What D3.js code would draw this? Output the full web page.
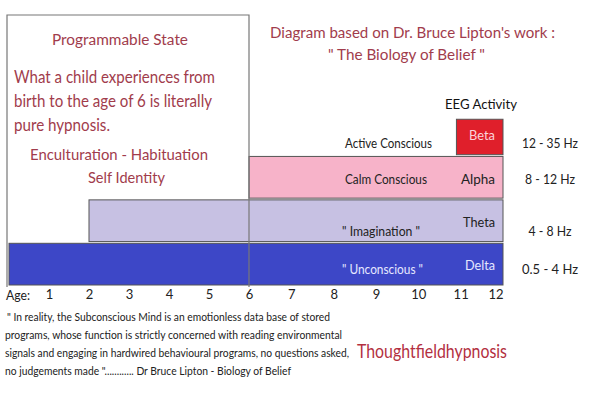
<!DOCTYPE html>
<html><head><meta charset="utf-8">
<script src="https://cdn.jsdelivr.net/npm/d3@7"></script>
<style>
html,body{margin:0;padding:0;background:#fff;}
svg{display:block;font-family:Lato,"Noto Sans",sans-serif;}
</style></head>
<body>
<script>
// ---- data ----
const series = ["Delta", "Theta", "Alpha", "Beta"];
const startAge = [0, 2, 6, 10.9];
const endAge = [12, 12, 12, 12];
const stateLabels = ['" Unconscious "', '" Imagination "', "Calm Conscious", "Active Conscious"];
const freqLabels = ["0.5 -  4 Hz", "4 -  8 Hz", "8 - 12 Hz", "12 - 35 Hz"];
const ageTicks = [1, 2, 3, 4, 5, 6, 7, 8, 9, 10, 11, 12];
const programmableEnd = 6;
const leftTexts = ["What a child experiences from", "birth to the age of 6 is literally", "pure hypnosis."];
const quoteLines = [
  '" In reality, the Subconscious Mind is an emotionless data base of stored',
  "programs, whose function is strictly concerned with reading environmental",
  "signals and engaging in hardwired behavioural programs, no questions asked,",
  'no judgements made "............ Dr Bruce Lipton - Biology of Belief'
];

const W = 600, H = 400;
const fill = {Delta: "#3d47c7", Theta: "#c7c1e3", Alpha: "#f7b3c9", Beta: "#e01f2b"};
const nameColor = {Delta: "#e6e8ff", Theta: "#222", Alpha: "#222", Beta: "#fbd3da"};
const stateColor = {Delta: "#e6e8ff", Theta: "#222", Alpha: "#222", Beta: "#222"};
const red = "#a13c4c";

// layout-only tweaks (text widths / baseline offsets)
const nameOff = {Delta: 6, Theta: 6, Alpha: 7, Beta: 6};
const stateOff = {Delta: 10, Theta: 15, Alpha: 7, Beta: 14};
const nameW = {Delta: 30, Theta: 32, Alpha: 34, Beta: 26};
const stateW = {Delta: 81, Theta: 78, Alpha: 82, Beta: 87};
const freqW = {Delta: 56, Theta: 43, Alpha: 50, Beta: 56};

const svg = d3.select("body").append("svg").attr("width", W).attr("height", H);

function fit(sel, w) {
  sel.attr("textLength", w).attr("lengthAdjust", "spacingAndGlyphs");
  return sel;
}

const x = d3.scaleLinear().domain([0, 6, 12]).range([9, 249, 503]);
const y = d3.scaleBand().domain(series).range([285, 113]).paddingInner(0.04);

const data = series.map((s, i) => ({name: s, start: startAge[i], end: endAge[i], state: stateLabels[i], freq: freqLabels[i]}));

// bars
svg.append("g").selectAll("rect").data(data).join("rect")
  .attr("x", d => x(d.start))
  .attr("y", d => d.name === "Beta" ? y(d.name) + y.bandwidth() * 0.15 : y(d.name))
  .attr("width", d => x(d.end) - x(d.start))
  .attr("height", d => d.name === "Beta" ? y.bandwidth() * 0.85 : y.bandwidth())
  .attr("fill", d => fill[d.name])
  .attr("stroke", "#555").attr("stroke-width", 1);

// programmable-state box (left, top, right lines)
const boxTop = 15, boxBottom = 287;
const bx0 = x(0) - 2, bx1 = x(programmableEnd);
svg.append("path")
  .attr("d", `M${bx0},${boxBottom}V${boxTop}H${bx1}V${boxBottom}`)
  .attr("fill", "none").attr("stroke", "#777").attr("stroke-width", 1.2);

const mid = d => y(d.name) + y.bandwidth() / 2;

// bar name labels
svg.append("g").selectAll("text").data(data).join("text")
  .attr("x", x(12) - 8)
  .attr("y", d => mid(d) + nameOff[d.name])
  .attr("text-anchor", "end")
  .attr("font-size", 14)
  .attr("fill", d => nameColor[d.name])
  .attr("textLength", d => nameW[d.name]).attr("lengthAdjust", "spacingAndGlyphs")
  .text(d => d.name);

// state labels
svg.append("g").selectAll("text").data(data).join("text")
  .attr("x", d => d.name === "Alpha" || d.name === "Beta" ? 345 : 342)
  .attr("y", d => mid(d) + stateOff[d.name])
  .attr("font-size", 13)
  .attr("fill", d => stateColor[d.name])
  .attr("textLength", d => stateW[d.name]).attr("lengthAdjust", "spacingAndGlyphs")
  .text(d => d.state);

// frequency labels
svg.append("g").selectAll("text").data(data).join("text")
  .attr("x", 550)
  .attr("y", d => mid(d) + stateOff[d.name])
  .attr("text-anchor", "middle")
  .attr("font-size", 13)
  .attr("fill", "#222")
  .attr("textLength", d => freqW[d.name]).attr("lengthAdjust", "spacingAndGlyphs")
  .text(d => d.freq);

// axis
const axis = svg.append("g").attr("transform", "translate(0,287)")
  .call(d3.axisBottom(x).tickValues(ageTicks).tickSize(0).tickPadding(3).tickFormat(d3.format("d")));
axis.select(".domain").remove();
axis.selectAll("text").attr("font-family", "Lato,'Noto Sans',sans-serif").attr("font-size", 13).attr("fill", "#222")
  .attr("text-anchor", d => d === 12 ? "end" : "middle");
fit(svg.append("text").attr("x", 6).attr("y", 300).attr("font-size", 13).attr("fill", "#222").text("Age:"), 24);

// EEG header
fit(svg.append("text").attr("x", 445).attr("y", 109)
  .attr("font-size", 14).attr("fill", "#111").text("EEG Activity"), 72);

// left box texts
fit(svg.append("text").attr("x", 52).attr("y", 45)
  .attr("font-size", 15.5).attr("fill", red).text("Programmable State"), 136);
const leftW = [201, 198, 96];
svg.append("g").selectAll("text").data(leftTexts).join("text")
  .attr("x", 14).attr("y", (d, i) => 83 + i * 24)
  .attr("font-size", 16.5).attr("fill", red)
  .attr("textLength", (d, i) => leftW[i]).attr("lengthAdjust", "spacingAndGlyphs")
  .text(d => d);
fit(svg.append("text").attr("x", 30).attr("y", 160)
  .attr("font-size", 16).attr("fill", red).text("Enculturation - Habituation"), 178);
fit(svg.append("text").attr("x", 88).attr("y", 183)
  .attr("font-size", 16).attr("fill", red).text("Self Identity"), 77);

// title
fit(svg.append("text").attr("x", 270).attr("y", 38)
  .attr("font-size", 15.5).attr("fill", red).text("Diagram based on Dr. Bruce Lipton's work :"), 285);
fit(svg.append("text").attr("x", 328).attr("y", 60)
  .attr("font-size", 15.5).attr("fill", red).text('" The Biology of Belief "'), 157);

// quote
const quoteW = [323, 337, 344, 286];
svg.append("g").selectAll("text").data(quoteLines).join("text")
  .attr("x", d => d.startsWith('"') ? 7 : 5).attr("y", (d, i) => 321 + i * 18)
  .attr("font-size", 11.2).attr("fill", "#222")
  .attr("textLength", (d, i) => quoteW[i]).attr("lengthAdjust", "spacingAndGlyphs")
  .text(d => d);

fit(svg.append("text").attr("x", 357).attr("y", 358)
  .attr("font-size", 20).attr("fill", "#b3303f").text("Thoughtfieldhypnosis"), 150);
</script>
</body></html>
